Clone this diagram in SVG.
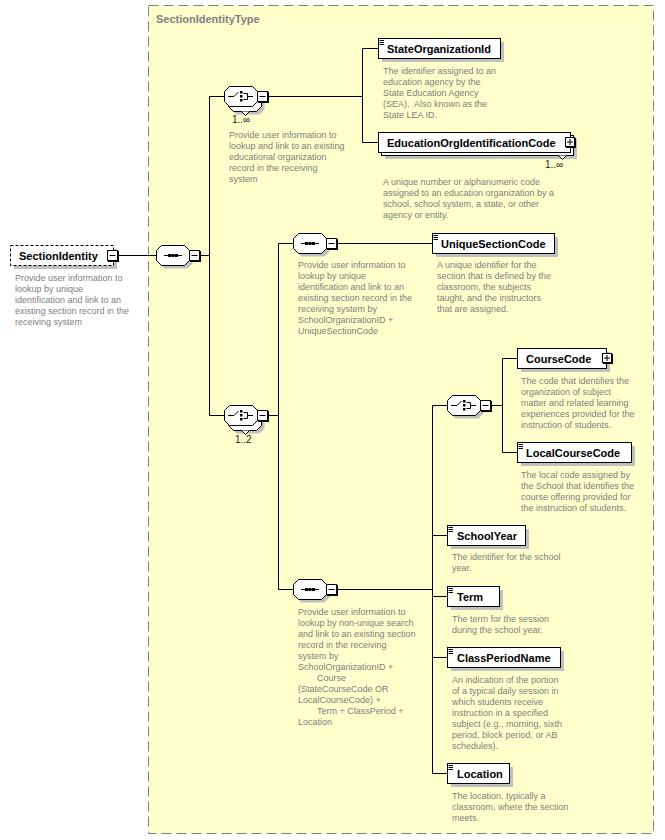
<svg xmlns="http://www.w3.org/2000/svg" xmlns:xlink="http://www.w3.org/1999/xlink" width="665" height="840" viewBox="0 0 665 840">
<style>
.desc{font-family:"Liberation Sans",Arial,sans-serif;font-size:9px;fill:#808080}
.name{font-family:"Liberation Sans",Arial,sans-serif;font-size:11px;font-weight:bold;fill:#000}
.occ{font-family:"Liberation Sans",Arial,sans-serif;font-size:10px;fill:#202020}
.title{font-family:"Liberation Sans",Arial,sans-serif;font-size:11px;font-weight:bold;fill:#808080}
.box{fill:#fff;stroke:#000;stroke-width:1}
.shd{fill:#c0c0c0}
.conn{stroke:#000;stroke-width:1;fill:none}
</style>
<defs>
<path id="oct" d="M5.5,0.5H28.5L33.5,5.5V15.5L28.5,20.5H5.5L0.5,15.5V5.5Z"/>
<g id="minus">
<rect x="1" y="1" width="11" height="11" fill="#000"/>
<rect x="0.5" y="0.5" width="10" height="10" fill="#fff" stroke="#000"/>
<line x1="2.5" y1="5.5" x2="8.5" y2="5.5" stroke="#000"/>
</g>
<g id="plus">
<rect x="1" y="1" width="10" height="10" fill="#000"/>
<rect x="0.5" y="0.5" width="9" height="9" fill="#fff" stroke="#000"/>
<line x1="2" y1="5" x2="8" y2="5" stroke="#000"/>
<line x1="5" y1="2" x2="5" y2="8" stroke="#000"/>
</g>
<g id="seq">
<use xlink:href="#oct" href="#oct" transform="translate(3,3)" class="shd"/>
<use xlink:href="#oct" href="#oct" fill="#fff" stroke="#000"/>
<line x1="8" y1="10.5" x2="26" y2="10.5" stroke="#000"/>
<rect x="12" y="9" width="3" height="3" fill="#000"/>
<rect x="15.5" y="9" width="3" height="3" fill="#000"/>
<rect x="19" y="9" width="3" height="3" fill="#000"/>
<use xlink:href="#minus" href="#minus" transform="translate(33,5)"/>
</g>
<g id="choiceInner">
<use xlink:href="#oct" href="#oct" fill="#fff" stroke="#000"/>
<path d="M4,10.5H10L14.5,6" stroke="#000" fill="none"/>
<rect x="16" y="5" width="2.5" height="2.5" fill="#000"/>
<rect x="16" y="9" width="2.5" height="2.5" fill="#000"/>
<rect x="16" y="13" width="2.5" height="2.5" fill="#000"/>
<path d="M19.5,7.5H23.5V13.5H19.5M23.5,10.5H29" stroke="#000" fill="none"/>
</g>
<g id="choice">
<use xlink:href="#oct" href="#oct" transform="translate(3,3)" class="shd"/>
<use xlink:href="#choiceInner" href="#choiceInner"/>
<use xlink:href="#minus" href="#minus" transform="translate(33,5)"/>
</g>
<g id="choiceM">
<use xlink:href="#oct" href="#oct" transform="translate(7,8)" class="shd"/>
<use xlink:href="#oct" href="#oct" transform="translate(4,5)" fill="#fff" stroke="#000"/>
<path d="M17.5,25.5L21.5,29.5L25.5,25.5" fill="#fff" stroke="#000"/>
<use xlink:href="#choiceInner" href="#choiceInner"/>
<use xlink:href="#minus" href="#minus" transform="translate(33,5)"/>
</g>
<g id="lines3">
<line x1="1.5" y1="2.5" x2="6" y2="2.5" stroke="#000"/>
<line x1="1.5" y1="4.5" x2="6" y2="4.5" stroke="#000"/>
<line x1="1.5" y1="6.5" x2="6" y2="6.5" stroke="#000"/>
</g>
</defs>

<rect x="0" y="0" width="665" height="840" fill="#fff"/>
<rect x="148.5" y="5.5" width="505" height="828" fill="#ffffcc" stroke="#808080" stroke-dasharray="10,5"/>
<text class="title" x="156" y="23">SectionIdentityType</text>

<g id="connectors" class="conn">
<path d="M118,255.5H157"/>
<path d="M199,255.5H209.5"/>
<path d="M209.5,96.5V415.5"/>
<path d="M209.5,96.5H224"/>
<path d="M267,96.5H362.5"/>
<path d="M362.5,48.5V142.5"/>
<path d="M362.5,48.5H378"/>
<path d="M362.5,142.5H378"/>
<path d="M209.5,415.5H224"/>
<path d="M267,415.5H278.5"/>
<path d="M278.5,243.5V589.5"/>
<path d="M278.5,243.5H293"/>
<path d="M336,243.5H432"/>
<path d="M278.5,589.5H293"/>
<path d="M336,589.5H432.5"/>
<path d="M432.5,405.5V773.5"/>
<path d="M432.5,405.5H447"/>
<path d="M490,405.5H502.5"/>
<path d="M502.5,358.5V452.5"/>
<path d="M502.5,358.5H517"/>
<path d="M502.5,452.5H517"/>
<path d="M432.5,535.5H447"/>
<path d="M432.5,596.5H447"/>
<path d="M432.5,657.5H447"/>
<path d="M432.5,773.5H447"/>
</g>

<g id="SectionIdentity">
<rect x="14" y="249" width="103" height="20" class="shd"/>
<rect x="10.5" y="245.5" width="103" height="20" fill="#fff" stroke="#000" stroke-dasharray="3,2"/>
<text class="name" x="19" y="260">SectionIdentity</text>
<use xlink:href="#minus" href="#minus" transform="translate(107,250)"/>
<text class="desc"><tspan x="15" y="281">Provide user information to</tspan><tspan x="15" y="292">lookup by unique</tspan><tspan x="15" y="303">identification and link to an</tspan><tspan x="15" y="314">existing section record in the</tspan><tspan x="15" y="325">receiving system</tspan></text>
</g>

<g id="seq1"><use xlink:href="#seq" href="#seq" transform="translate(156,245)"/></g>

<g id="choice1">
<use xlink:href="#choiceM" href="#choiceM" transform="translate(224,86)"/>
<text class="occ" x="232" y="123">1..∞</text>
<text class="desc"><tspan x="229" y="138">Provide user information to</tspan><tspan x="229" y="149">lookup and link to an existing</tspan><tspan x="229" y="160">educational organization</tspan><tspan x="229" y="171">record in the receiving</tspan><tspan x="229" y="182">system</tspan></text>
</g>

<g id="StateOrganizationId">
<rect x="382" y="42" width="122" height="20" class="shd"/>
<rect x="378.5" y="38.5" width="122" height="20" class="box"/>
<use xlink:href="#lines3" href="#lines3" transform="translate(378,38)"/>
<text class="name" x="387" y="53">StateOrganizationId</text>
<text class="desc"><tspan x="383" y="74">The identifier assigned to an</tspan><tspan x="383" y="85">education agency by the</tspan><tspan x="383" y="96">State Education Agency</tspan><tspan x="383" y="107">(SEA).&#160; Also known as the</tspan><tspan x="383" y="118">State LEA ID.</tspan></text>
</g>

<g id="EducationOrgIdentificationCode">
<rect x="385" y="139" width="192" height="20" class="shd"/>
<rect x="381.5" y="135.5" width="192" height="20" class="box"/>
<path d="M558.5,155.5L562.5,159.5L566.5,155.5" fill="#fff" stroke="#000"/>
<rect x="378.5" y="132.5" width="192" height="20" class="box"/>
<text class="name" x="387" y="147">EducationOrgIdentificationCode</text>
<use xlink:href="#plus" href="#plus" transform="translate(565,137)"/>
<text class="occ" x="545" y="168">1..∞</text>
<text class="desc"><tspan x="383" y="185">A unique number or alphanumeric code</tspan><tspan x="383" y="196">assigned to an education organization by a</tspan><tspan x="383" y="207">school, school system, a state, or other</tspan><tspan x="383" y="218">agency or entity.</tspan></text>
</g>

<g id="choice2">
<use xlink:href="#choiceM" href="#choiceM" transform="translate(224,405)"/>
<text class="occ" x="235" y="443">1..2</text>
</g>

<g id="seq2">
<use xlink:href="#seq" href="#seq" transform="translate(293,233)"/>
<text class="desc"><tspan x="298" y="268">Provide user information to</tspan><tspan x="298" y="279">lookup by unique</tspan><tspan x="298" y="290">identification and link to an</tspan><tspan x="298" y="301">existing section record in the</tspan><tspan x="298" y="312">receiving system by</tspan><tspan x="298" y="323">SchoolOrganizationID +</tspan><tspan x="298" y="334">UniqueSectionCode</tspan></text>
</g>

<g id="UniqueSectionCode">
<rect x="436" y="237" width="122" height="20" class="shd"/>
<rect x="432.5" y="233.5" width="122" height="20" class="box"/>
<use xlink:href="#lines3" href="#lines3" transform="translate(432,233)"/>
<text class="name" x="441" y="248">UniqueSectionCode</text>
<text class="desc"><tspan x="437" y="268">A unique identifier for the</tspan><tspan x="437" y="279">section that is defined by the</tspan><tspan x="437" y="290">classroom, the subjects</tspan><tspan x="437" y="301">taught, and the instructors</tspan><tspan x="437" y="312">that are assigned.</tspan></text>
</g>

<g id="seq3">
<use xlink:href="#seq" href="#seq" transform="translate(293,579)"/>
<text class="desc"><tspan x="298" y="615">Provide user information to</tspan><tspan x="298" y="626">lookup by non-unique search</tspan><tspan x="298" y="637">and link to an existing section</tspan><tspan x="298" y="648">record in the receiving</tspan><tspan x="298" y="659">system by</tspan><tspan x="298" y="670">SchoolOrganizationID +</tspan><tspan x="317" y="681">Course</tspan><tspan x="298" y="692">(StateCourseCode OR</tspan><tspan x="298" y="703">LocalCourseCode) +</tspan><tspan x="317" y="714">Term + ClassPeriod +</tspan><tspan x="298" y="725">Location</tspan></text>
</g>

<g id="choice3"><use xlink:href="#choice" href="#choice" transform="translate(447,395)"/></g>

<g id="CourseCode">
<rect x="521" y="352" width="89" height="20" class="shd"/>
<rect x="517.5" y="348.5" width="89" height="20" class="box"/>
<text class="name" x="526" y="363">CourseCode</text>
<use xlink:href="#plus" href="#plus" transform="translate(602,353)"/>
<text class="desc"><tspan x="521" y="384">The code that identifies the</tspan><tspan x="521" y="395">organization of subject</tspan><tspan x="521" y="406">matter and related learning</tspan><tspan x="521" y="417">experiences provided for the</tspan><tspan x="521" y="428">instruction of students.</tspan></text>
</g>

<g id="LocalCourseCode">
<rect x="521" y="446" width="114" height="20" class="shd"/>
<rect x="517.5" y="442.5" width="114" height="20" class="box"/>
<use xlink:href="#lines3" href="#lines3" transform="translate(517,442)"/>
<text class="name" x="526" y="457">LocalCourseCode</text>
<text class="desc"><tspan x="521" y="478">The local code assigned by</tspan><tspan x="521" y="489">the School that identifies the</tspan><tspan x="521" y="500">course offering provided for</tspan><tspan x="521" y="511">the instruction of students.</tspan></text>
</g>

<g id="SchoolYear">
<rect x="451" y="529" width="78" height="20" class="shd"/>
<rect x="447.5" y="525.5" width="78" height="20" class="box"/>
<use xlink:href="#lines3" href="#lines3" transform="translate(447,525)"/>
<text class="name" x="457" y="540">SchoolYear</text>
<text class="desc"><tspan x="452" y="560">The identifier for the school</tspan><tspan x="452" y="571">year.</tspan></text>
</g>

<g id="Term">
<rect x="451" y="590" width="52" height="20" class="shd"/>
<rect x="447.5" y="586.5" width="52" height="20" class="box"/>
<use xlink:href="#lines3" href="#lines3" transform="translate(447,586)"/>
<text class="name" x="457" y="601">Term</text>
<text class="desc"><tspan x="452" y="622">The term for the session</tspan><tspan x="452" y="633">during the school year.</tspan></text>
</g>

<g id="ClassPeriodName">
<rect x="451" y="651" width="113" height="20" class="shd"/>
<rect x="447.5" y="647.5" width="113" height="20" class="box"/>
<use xlink:href="#lines3" href="#lines3" transform="translate(447,647)"/>
<text class="name" x="457" y="662">ClassPeriodName</text>
<text class="desc"><tspan x="452" y="683">An indication of the portion</tspan><tspan x="452" y="694">of a typical daily session in</tspan><tspan x="452" y="705">which students receive</tspan><tspan x="452" y="716">instruction in a specified</tspan><tspan x="452" y="727">subject (e.g., morning, sixth</tspan><tspan x="452" y="738">period, block period, or AB</tspan><tspan x="452" y="749">schedules).</tspan></text>
</g>

<g id="Location">
<rect x="451" y="767" width="62" height="20" class="shd"/>
<rect x="447.5" y="763.5" width="62" height="20" class="box"/>
<use xlink:href="#lines3" href="#lines3" transform="translate(447,763)"/>
<text class="name" x="457" y="778">Location</text>
<text class="desc"><tspan x="452" y="799">The location, typically a</tspan><tspan x="452" y="810">classroom, where the section</tspan><tspan x="452" y="821">meets.</tspan></text>
</g>
</svg>
